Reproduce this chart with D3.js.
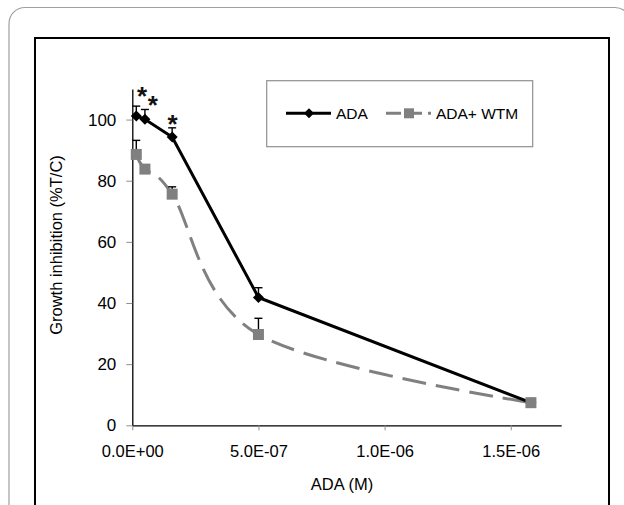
<!DOCTYPE html>
<html>
<head>
<meta charset="utf-8">
<script src="https://cdn.jsdelivr.net/npm/d3@7"></script>
<style>
  html, body { margin: 0; padding: 0; background: #fff; }
  svg { display: block; font-family: "Liberation Sans", Arial, sans-serif; }
</style>
</head>
<body>
<svg id="chart" width="624" height="505"></svg>
<script>
// ---- data ----
const concentrations = [1.58e-8, 5e-8, 1.58e-7, 5e-7, 1.58e-6];
const adaValues = [101.2, 100.1, 94.3, 41.8, 7.4];
const adaErrors = [3.2, 3.2, 3.0, 3.2, 0];
const wtmValues = [88.6, 83.8, 75.6, 29.7, 7.4];
const wtmErrors = [4.6, 0, 2.4, 5.3, 0];
const seriesNames = ["ADA", "ADA+ WTM"];
const xTicks = [0, 5e-7, 1e-6, 1.5e-6];
const xTickLabels = ["0.0E+00", "5.0E-07", "1.0E-06", "1.5E-06"];
const yTicks = [0, 20, 40, 60, 80, 100];
const starX = [3.85e-8, 8.1e-8, 1.6e-7];
const starY = [109.6, 106.7, 100.5];
const xTitle = "ADA (M)";
const yTitle = "Growth inhibition (%T/C)";

const svg = d3.select("#chart");

// frames
svg.append("rect").attr("x", 9).attr("y", 7.5).attr("width", 622).attr("height", 520)
  .attr("rx", 16).attr("ry", 16).attr("fill", "none").attr("stroke", "#a0a0a0").attr("stroke-width", 1.2);
svg.append("rect").attr("x", 35).attr("y", 38).attr("width", 574).attr("height", 500)
  .attr("fill", "#fff").attr("stroke", "#000").attr("stroke-width", 2);

const x = d3.scaleLinear().domain([0, 1.7e-6]).range([132.3, 561.2]);
const y = d3.scaleLinear().domain([0, 110]).range([425.3, 89]);

// axes
const xAxis = svg.append("g").attr("transform", `translate(0,${y(0)})`)
  .call(d3.axisBottom(x).tickValues(xTicks).tickSize(5).tickSizeOuter(0)
    .tickFormat((d, i) => xTickLabels[i]));
xAxis.select(".domain").attr("stroke", "#000").attr("stroke-width", 1.3);
xAxis.selectAll(".tick line").attr("stroke", "#909090");
xAxis.selectAll(".tick text").attr("font-size", 16.5).attr("fill", "#000")
  .attr("font-family", "Liberation Sans, Arial, sans-serif").attr("y", 0).attr("dy", "32px");

const yAxis = svg.append("g").attr("transform", `translate(${x(0)},0)`)
  .call(d3.axisLeft(y).tickValues(yTicks).tickSize(6).tickSizeOuter(0));
yAxis.select(".domain").attr("stroke", "#000").attr("stroke-width", 1.3);
yAxis.selectAll(".tick line").attr("stroke", "#909090");
yAxis.selectAll(".tick text").attr("font-size", 17).attr("fill", "#000")
  .attr("font-family", "Liberation Sans, Arial, sans-serif").attr("x", -16);

// titles
svg.append("text").attr("x", 342).attr("y", 490).attr("text-anchor", "middle")
  .attr("font-size", 16.5).attr("fill", "#000").text(xTitle);
svg.append("text").attr("transform", "translate(62,245) rotate(-90)").attr("text-anchor", "middle")
  .attr("font-size", 16.5).attr("fill", "#000").text(yTitle);

const adaData = concentrations.map((c, i) => ({x: c, y: adaValues[i], e: adaErrors[i]}));
const wtmData = concentrations.map((c, i) => ({x: c, y: wtmValues[i], e: wtmErrors[i]}));

// lines
svg.append("path").datum(wtmData)
  .attr("d", d3.line().x(d => x(d.x)).y(d => y(d.y)).curve(d3.curveCardinal.tension(0)))
  .attr("fill", "none").attr("stroke", "#808080").attr("stroke-width", 3)
  .attr("stroke-dasharray", "24,10");
svg.append("path").datum(adaData)
  .attr("d", d3.line().x(d => x(d.x)).y(d => y(d.y)))
  .attr("fill", "none").attr("stroke", "#000").attr("stroke-width", 3);

// error bars
function errBars(data) {
  const g = svg.append("g").attr("stroke", "#000").attr("stroke-width", 1.4);
  data.filter(d => d.e > 0).forEach(d => {
    g.append("line").attr("x1", x(d.x)).attr("x2", x(d.x)).attr("y1", y(d.y)).attr("y2", y(d.y + d.e));
    g.append("line").attr("x1", x(d.x) - 4).attr("x2", x(d.x) + 4).attr("y1", y(d.y + d.e)).attr("y2", y(d.y + d.e));
  });
}
errBars(wtmData);
errBars(adaData);

// markers (diamonds first; squares drawn on top as in the reference)
const diamond = s => `M0,${-s}L${s},0L0,${s}L${-s},0Z`;
svg.append("g").selectAll("path").data(adaData).join("path")
  .attr("transform", d => `translate(${x(d.x)},${y(d.y)})`).attr("d", diamond(5.5)).attr("fill", "#000");
svg.append("g").selectAll("rect").data(wtmData).join("rect")
  .attr("x", d => x(d.x) - 5.5).attr("y", d => y(d.y) - 5.5).attr("width", 11).attr("height", 11)
  .attr("fill", "#808080");

// significance stars
const starSize = 26;
svg.append("g").selectAll("text").data(starX).join("text")
  .attr("x", (d, i) => x(d)).attr("y", (d, i) => y(starY[i]) + 0.58 * starSize)
  .attr("text-anchor", "middle").attr("font-size", starSize).attr("font-weight", "bold")
  .attr("fill", "#111").text("*");

// legend
const lg = svg.append("g");
lg.append("rect").attr("x", 266.7).attr("y", 80.7).attr("width", 266).attr("height", 66)
  .attr("fill", "#fff").attr("stroke", "#909090").attr("stroke-width", 1.2);
const ly = 113.3;
lg.append("line").attr("x1", 286).attr("x2", 331).attr("y1", ly).attr("y2", ly)
  .attr("stroke", "#000").attr("stroke-width", 3);
lg.append("path").attr("transform", `translate(309,${ly})`).attr("d", diamond(5)).attr("fill", "#000");
lg.append("text").attr("x", 336).attr("y", ly + 5.5).attr("font-size", 15.5).attr("fill", "#000").text(seriesNames[0]);
lg.append("line").attr("x1", 386).attr("x2", 431).attr("y1", ly).attr("y2", ly)
  .attr("stroke", "#808080").attr("stroke-width", 3).attr("stroke-dasharray", "15,6");
lg.append("rect").attr("x", 404).attr("y", ly - 5).attr("width", 10).attr("height", 10).attr("fill", "#808080");
lg.append("text").attr("x", 436).attr("y", ly + 5.5).attr("font-size", 15.5).attr("fill", "#000").text(seriesNames[1]);
</script>
</body>
</html>
